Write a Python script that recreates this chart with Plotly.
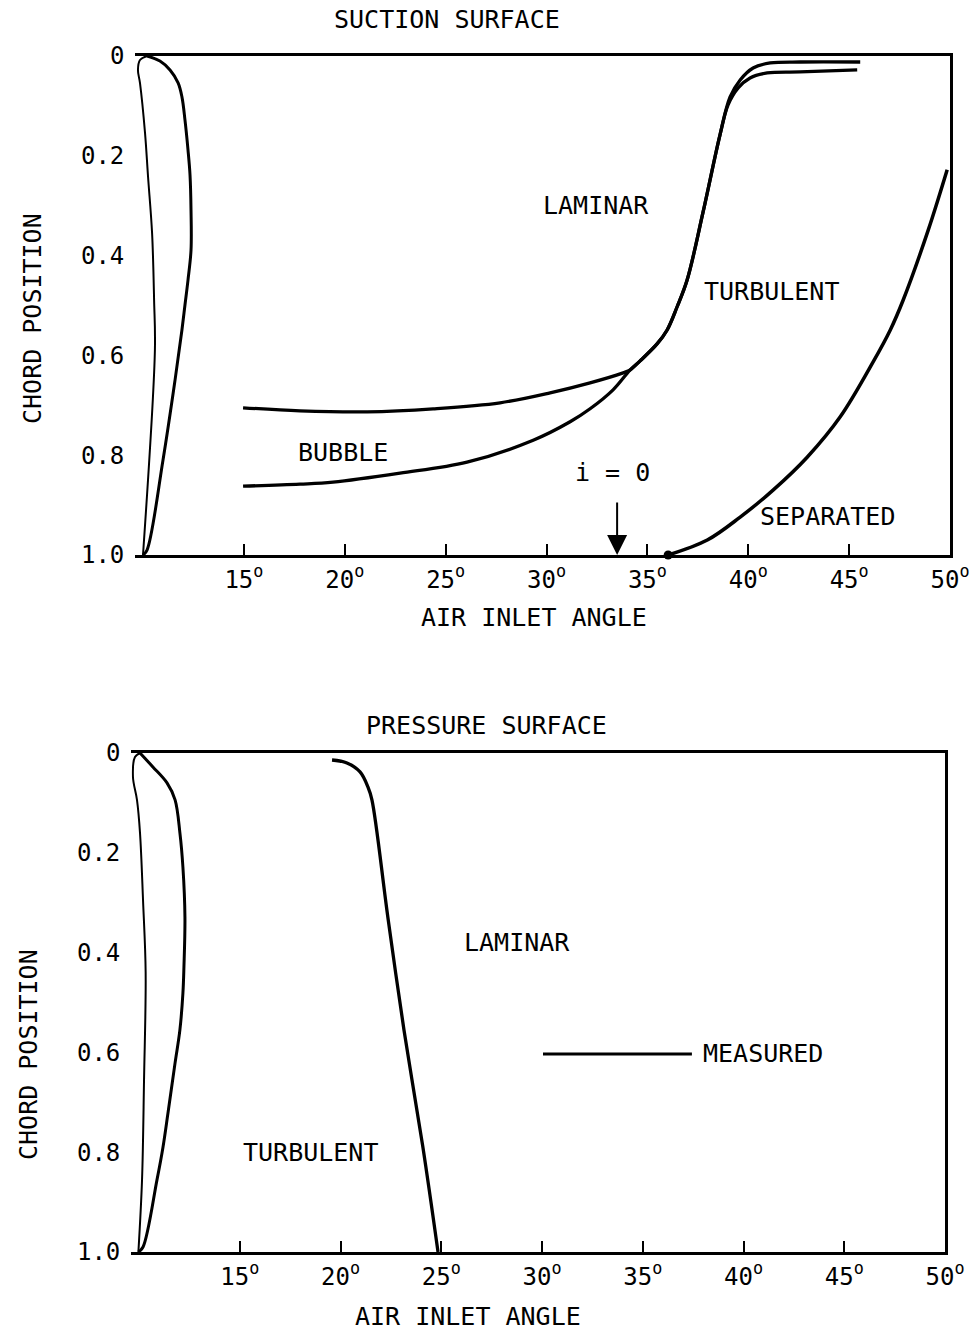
import plotly.graph_objects as go

# ---------------- data : SUCTION SURFACE ----------------
suc_lens_left_x = [10.0, 10.59, 10.55, 10.45, 10.25, 10.10, 9.85, 9.75, 9.85, 10.2]
suc_lens_left_y = [1.0, 0.589, 0.489, 0.355, 0.242, 0.154, 0.054, 0.028, 0.008, 0.0]
suc_lens_right_x = [10.2, 10.84, 11.34, 11.74, 11.93, 12.08, 12.23, 12.33, 12.38, 12.38,
                    12.23, 12.08, 11.93, 11.59, 10.99, 10.2, 10.0]
suc_lens_right_y = [0.0, 0.010, 0.028, 0.054, 0.082, 0.128, 0.188, 0.238, 0.309, 0.389,
                    0.449, 0.499, 0.549, 0.649, 0.810, 0.99, 1.0]

# upper bubble line (separation) merging into transition line -> upper top branch
suc_upper_x = [14.96, 17.78, 21.11, 24.38, 27.70, 30.18, 32.16, 33.80, 34.15,
               34.64, 35.48, 35.98, 36.47, 36.97, 37.76, 38.60, 39.10, 39.60, 40.24,
               41.09, 42.57, 45.55]
suc_upper_y = [0.705, 0.711, 0.713, 0.707, 0.695, 0.675, 0.655, 0.635, 0.629,
               0.611, 0.577, 0.549, 0.503, 0.449, 0.313, 0.158, 0.082, 0.048, 0.024,
               0.014, 0.012, 0.012]
# lower bubble line (reattachment) merging into transition line -> lower top branch
suc_lower_x = [14.96, 17.78, 19.42, 22.74, 26.06, 29.34, 31.17, 32.16, 33.30, 34.15,
               34.64, 35.48, 35.98, 36.47, 36.97, 37.76, 38.60, 39.0, 39.5, 40.09,
               40.94, 42.57, 45.40]
suc_lower_y = [0.862, 0.858, 0.854, 0.836, 0.814, 0.770, 0.733, 0.707, 0.669, 0.629,
               0.611, 0.577, 0.549, 0.503, 0.449, 0.313, 0.158, 0.098, 0.064, 0.044,
               0.034, 0.032, 0.028]
# separated boundary
suc_sep_x = [36.03, 37.97, 39.60, 41.23, 42.92, 44.56, 46.19, 47.04, 47.68, 48.92, 49.86]
suc_sep_y = [1.0, 0.970, 0.924, 0.870, 0.804, 0.723, 0.613, 0.549, 0.489, 0.349, 0.228]

# ---------------- data : PRESSURE SURFACE ----------------
pre_lens_left_x = [9.97, 10.15, 10.25, 10.33, 10.20, 10.05, 9.90, 9.70, 9.80, 10.05]
pre_lens_left_y = [1.0, 0.856, 0.655, 0.440, 0.295, 0.160, 0.094, 0.048, 0.008, 0.0]
pre_lens_right_x = [10.05, 10.69, 11.39, 11.79, 12.03, 12.18, 12.28, 12.23, 12.18, 12.03,
                    11.79, 11.44, 11.19, 10.89, 10.2, 9.97]
pre_lens_right_y = [0.0, 0.028, 0.060, 0.094, 0.160, 0.229, 0.329, 0.429, 0.481, 0.555,
                    0.621, 0.721, 0.790, 0.856, 0.990, 1.0]
pre_trans_x = [19.58, 20.32, 20.97, 21.36, 21.56, 22.35, 23.15, 24.09, 24.84]
pre_trans_y = [0.014, 0.020, 0.038, 0.068, 0.094, 0.329, 0.555, 0.790, 1.0]
legend_x = [30.05, 37.44]
legend_y = [0.603, 0.603]

# axis ticks
x_tickvals = [15, 20, 25, 30, 35, 40, 45, 50]
x_ticktext = [f"{v}<sup>o</sup>" for v in x_tickvals]
y_tickvals = [0, 0.2, 0.4, 0.6, 0.8, 1.0]
y_ticktext = ["0", "0.2", "0.4", "0.6", "0.8", "1.0"]

# ---------------- layout helpers ----------------
W, H = 973, 1333
ML, MR = 130, 23
PW = W - ML - MR
FONT = "DejaVu Sans Mono"


def px2x(px):
    return (px - ML) / PW


def py2y(py):
    return 1 - py / H


XMIN = 9.62
top_xdom = [px2x(143 - (10 - XMIN) * 20.17), px2x(950)]
bot_xdom = [px2x(139 - (10 - XMIN) * 20.15), px2x(945)]
top_ydom = [py2y(555), py2y(56)]
bot_ydom = [py2y(1252), py2y(753)]

fig = go.Figure()


def line(x, y, xa, ya, w=3.0, shape="spline"):
    fig.add_trace(go.Scatter(x=x, y=y, xaxis=xa, yaxis=ya, mode="lines",
                             line=dict(color="black", width=w, shape=shape, smoothing=1.0),
                             showlegend=False, hoverinfo="skip"))


line(suc_lens_left_x, suc_lens_left_y, "x", "y", 2.0)
line(suc_lens_right_x, suc_lens_right_y, "x", "y", 3.0)
line(suc_upper_x, suc_upper_y, "x", "y", 3.3)
line(suc_lower_x, suc_lower_y, "x", "y", 3.3)
line(suc_sep_x, suc_sep_y, "x", "y", 3.5)
fig.add_trace(go.Scatter(x=suc_sep_x[:1], y=suc_sep_y[:1], xaxis="x", yaxis="y",
                         mode="markers", marker=dict(color="black", size=9),
                         cliponaxis=False, showlegend=False, hoverinfo="skip"))

line(pre_lens_left_x, pre_lens_left_y, "x2", "y2", 2.0)
line(pre_lens_right_x, pre_lens_right_y, "x2", "y2", 3.0)
line(pre_trans_x, pre_trans_y, "x2", "y2", 3.3)
line(legend_x, legend_y, "x2", "y2", 3.0, "linear")


def xaxis(dom, anchor):
    return dict(domain=dom, anchor=anchor, range=[XMIN, 50], showgrid=False, zeroline=False,
                showline=True, mirror=True, linecolor="black", linewidth=2.5,
                ticks="inside", ticklen=11, tickwidth=2, tickcolor="black",
                tickvals=x_tickvals, ticktext=x_ticktext,
                tickfont=dict(family=FONT, size=24, color="black"),
                ticklabelstandoff=1, automargin=False)


def yaxis(dom, anchor):
    return dict(domain=dom, anchor=anchor, range=[1.0, 0.0], showgrid=False, zeroline=False,
                showline=False, ticks="", tickvals=y_tickvals, ticktext=y_ticktext,
                tickfont=dict(family=FONT, size=24, color="black"), ticklabelstandoff=10,
                automargin=False)


def yright(over, anchor):
    return dict(overlaying=over, anchor=anchor, side="right", range=[1.0, 0.0],
                showgrid=False, zeroline=False, showline=True, linecolor="black",
                linewidth=2.5, showticklabels=False, ticks="", automargin=False)


fig.update_layout(
    width=W, height=H, margin=dict(l=ML, r=MR, t=0, b=0, pad=0, autoexpand=False),
    paper_bgcolor="white", plot_bgcolor="white", showlegend=False,
    xaxis=xaxis(top_xdom, "y"), yaxis=yaxis(top_ydom, "x"),
    xaxis2=xaxis(bot_xdom, "y2"), yaxis2=yaxis(bot_ydom, "x2"),
    yaxis3=yright("y", "x"), yaxis4=yright("y2", "x2"),
)
# need traces on y3/y4 for them to render
fig.add_trace(go.Scatter(x=[], y=[], xaxis="x", yaxis="y3", showlegend=False))
fig.add_trace(go.Scatter(x=[], y=[], xaxis="x2", yaxis="y4", showlegend=False))

tf = dict(family=FONT, size=25, color="black")
ann = []


def paper_text(text, px, py, angle=0):
    ann.append(dict(text=text, x=px2x(px), y=py2y(py), xref="paper", yref="paper",
                    showarrow=False, font=tf, textangle=angle,
                    xanchor="center", yanchor="middle"))


def data_text(text, x, y, xr, yr):
    ann.append(dict(text=text, x=x, y=y, xref=xr, yref=yr, showarrow=False, font=tf,
                    xanchor="center", yanchor="middle"))


paper_text("SUCTION SURFACE", 447, 20)
paper_text("AIR INLET ANGLE", 534, 618)
paper_text("CHORD POSITION", 32, 319, -90)
paper_text("PRESSURE SURFACE", 486, 725)
paper_text("AIR INLET ANGLE", 468, 1316)
paper_text("CHORD POSITION", 28, 1055, -90)

data_text("LAMINAR", 32.46, 0.299, "x", "y")
data_text("TURBULENT", 41.13, 0.471, "x", "y")
data_text("BUBBLE", 19.92, 0.794, "x", "y")
data_text("SEPARATED", 43.91, 0.922, "x", "y")
data_text("i = 0", 33.25, 0.834, "x", "y")
ann.append(dict(text="", x=33.5, y=1.0, xref="x", yref="y", showarrow=True,
                ax=0, ay=-54, axref="pixel", ayref="pixel",
                arrowhead=2, arrowsize=2.0, arrowwidth=2, arrowcolor="black"))

data_text("LAMINAR", 28.76, 0.379, "x2", "y2")
data_text("TURBULENT", 18.49, 0.80, "x2", "y2")
ann.append(dict(text="MEASURED", x=37.9, y=0.603, xref="x2", yref="y2", showarrow=False,
                font=tf, xanchor="left", yanchor="middle"))

fig.update_layout(annotations=ann)
fig.write_html("out.html")
